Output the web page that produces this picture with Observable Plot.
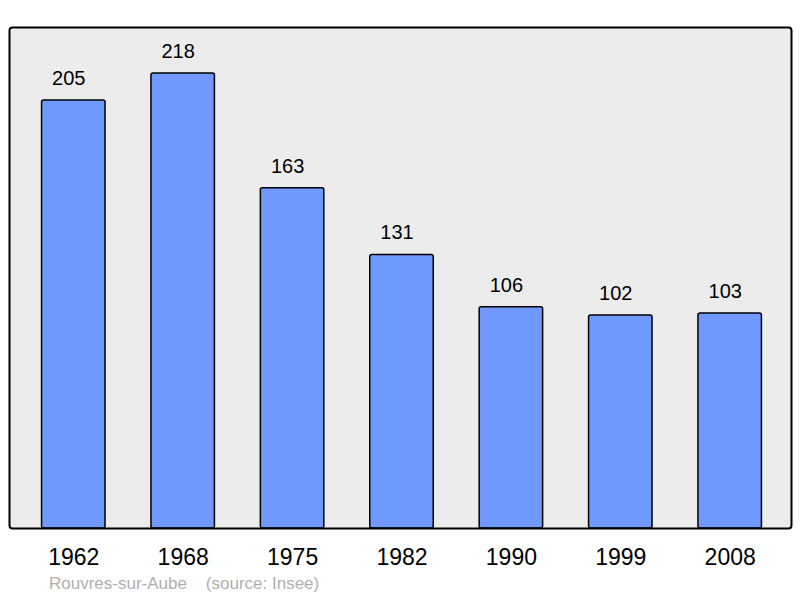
<!DOCTYPE html>
<html>
<head>
<meta charset="utf-8">
<script src="https://cdn.jsdelivr.net/npm/d3@7"></script>
<script src="https://cdn.jsdelivr.net/npm/@observablehq/plot@0.6"></script>
<style>
  body { margin: 0; background: #fff; font-family: "Liberation Sans", Arial, sans-serif; }
  #chart svg { display: block; }
  #caption { margin-top: -3px; padding-left: 49px; font-size: 17px; line-height: 22px; color: #b0b0b0; white-space: pre; }
</style>
</head>
<body>
<div id="chart"></div>
<div id="caption"></div>
<script>
const years = ["1962", "1968", "1975", "1982", "1990", "1999", "2008"];
const population = [205, 218, 163, 131, 106, 102, 103];
const captionText = "Rouvres-sur-Aube    (source: Insee)";

const data = years.map((year, i) => ({year, value: population[i]}));

const chart = Plot.plot({
  width: 800,
  height: 576,
  marginLeft: 9,
  marginRight: 9,
  marginTop: 27,
  marginBottom: 48,
  style: { fontFamily: "Liberation Sans, Arial, sans-serif", background: "transparent" },
  x: { domain: years, paddingInner: 0.42, paddingOuter: 0.284, align: 0.524, round: false, label: null },
  y: { domain: [0, 240], axis: null },
  marks: [
    Plot.frame({ fill: "#ececec", stroke: "none" }),
    Plot.barY(data, { x: "year", y: "value", fill: "#7099ff", stroke: "#000", strokeWidth: 1.5, rx: 2 }),
    Plot.text(data, { x: "year", y: "value", text: d => String(d.value), dy: -22, dx: -5, fontSize: 20, fill: "#000" }),
    Plot.frame({ stroke: "#000", strokeWidth: 2, rx: 3 }),
    Plot.axisX({ tickSize: 0, tickPadding: 20, fontSize: 23, color: "#000", label: null })
  ]
});
document.getElementById("chart").appendChild(chart);
document.getElementById("caption").textContent = captionText;
</script>
</body>
</html>
